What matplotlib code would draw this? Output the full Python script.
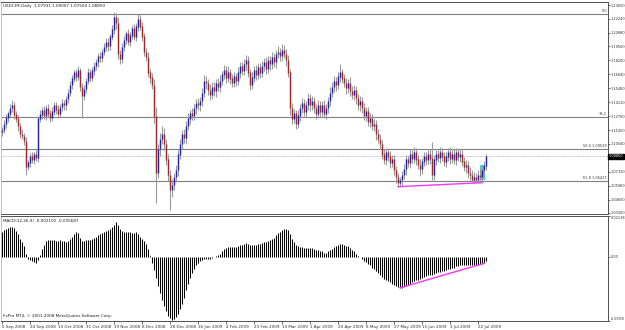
import numpy as np
import matplotlib.pyplot as plt
from matplotlib.patches import Rectangle
from matplotlib.transforms import blended_transform_factory

# USDCHF daily closes in pips (price * 10000), 5 Sep 2008 .. 28 Jul 2009
closes_pips = [
    11140, 11200, 11260, 11300, 11350, 11380, 11290, 11250, 11180, 11100,
    11080, 11030, 10780, 10820, 10880, 10850, 10900, 10870, 11250, 11290,
    11330, 11280, 11350, 11300, 11260, 11320, 11380, 11340, 11300, 11360,
    11400, 11380, 11440, 11500, 11580, 11640, 11700, 11660, 11720, 11560,
    11470, 11540, 11620, 11700, 11650, 11720, 11760, 11800, 11860, 11840,
    11900, 11950, 12000, 11960, 12050, 12120, 12240, 12180, 11880, 11830,
    11950, 12020, 12080, 12000, 12060, 12130, 12050, 12150, 12220, 12150,
    12050, 11900, 11850, 11700, 11650, 11580, 11270, 10720, 10950, 11050,
    11100, 11000, 10850, 10700, 10550, 10600, 10680, 10750, 10900, 11000,
    11100, 11060, 11180, 11250, 11300, 11280, 11350, 11400, 11380, 11420,
    11500, 11620, 11600, 11530, 11480, 11560, 11520, 11600, 11560, 11620,
    11680, 11720, 11650, 11700, 11640, 11600, 11660, 11620, 11700, 11760,
    11720, 11780, 11820, 11700, 11580, 11650, 11720, 11680, 11750, 11700,
    11760, 11800, 11740, 11820, 11780, 11850, 11800, 11880, 11900, 11860,
    11920, 11880, 11820, 11700, 11350, 11250, 11300, 11200, 11280, 11350,
    11400, 11320, 11380, 11450, 11380, 11420, 11350, 11300, 11380, 11320,
    11380, 11300, 11350, 11420, 11500, 11560, 11620, 11580, 11660, 11700,
    11640, 11600, 11550, 11600, 11520, 11480, 11530, 11450, 11380, 11420,
    11350, 11280, 11320, 11220, 11250, 11180, 11200, 11100, 11050, 11000,
    10900, 10850, 10920, 10880, 10820, 10850, 10750, 10680, 10620, 10650,
    10700, 10760, 10850, 10820, 10900, 10860, 10920, 10850, 10800, 10760,
    10830, 10880, 10850, 10900, 10860, 10700, 10850, 10900, 10870, 10920,
    10880, 10830, 10880, 10920, 10860, 10900, 10850, 10920, 10880, 10900,
    10830, 10780, 10800, 10720, 10700, 10650, 10680, 10650, 10700, 10680,
    10750, 10793, 10885,
]
first_open = 11120

upper_wick = [
    30, 40, 35, 25, 40, 50, 30, 35, 40, 30, 45, 35, 40, 30, 35, 45, 30, 40, 30, 50,
    35, 40, 30, 45, 35, 40, 30, 35, 45, 30, 40, 35, 30, 45, 40, 35, 30, 40, 45, 30,
    40, 35, 30, 45, 40, 35, 40, 30, 35, 45, 30, 40, 35, 40, 30, 45, 50, 40, 60, 45,
    35, 40, 30, 45, 40, 35, 45, 30, 50, 40, 45, 35, 40, 50, 40, 45, 60, 90, 50, 60,
    80, 60, 50, 55, 45, 60, 40, 50, 45, 55, 40, 50, 45, 60, 40, 50, 45, 40, 55, 45,
    50, 60, 45, 40, 55, 45, 50, 40, 45, 55, 40, 50, 45, 60, 40, 50, 45, 40, 55, 45,
    40, 50, 50, 45, 40, 55, 45, 50, 40, 45, 55, 40, 50, 45, 40, 50, 45, 40, 55, 45,
    60, 45, 50, 55, 40, 50, 45, 40, 55, 45, 50, 40, 45, 55, 40, 50, 45, 40, 55, 45,
    40, 50, 45, 40, 55, 45, 50, 40, 45, 80, 40, 50, 45, 40, 55, 45, 50, 40, 45, 55,
    40, 50, 45, 40, 55, 45, 50, 40, 45, 55, 40, 50, 45, 40, 55, 45, 50, 40, 45, 35,
    40, 50, 45, 40, 55, 45, 50, 40, 45, 55, 40, 50, 45, 40, 55, 160, 50, 40, 45, 55,
    40, 50, 45, 40, 55, 45, 50, 40, 45, 55, 40, 50, 45, 40, 55, 45, 50, 40, 45, 55, 40, 45, 16,
]
lower_wick = [
    35, 30, 40, 45, 30, 35, 40, 30, 45, 35, 30, 40, 80, 35, 40, 30, 45, 35, 40, 30,
    40, 35, 45, 30, 40, 35, 30, 45, 40, 35, 30, 40, 45, 35, 30, 40, 35, 45, 30, 40,
    210, 35, 40, 30, 45, 35, 40, 30, 45, 35, 40, 30, 35, 45, 40, 30, 40, 50, 45, 50,
    40, 35, 45, 30, 40, 35, 30, 45, 40, 35, 45, 40, 35, 45, 50, 40, 60, 290, 50, 60,
    50, 60, 55, 60, 190, 60, 50, 45, 55, 40, 50, 45, 60, 40, 50, 45, 40, 55, 45, 50,
    45, 40, 55, 45, 50, 40, 45, 55, 40, 50, 45, 40, 55, 45, 50, 40, 45, 55, 40, 50,
    45, 40, 55, 45, 50, 40, 45, 55, 40, 50, 45, 40, 55, 45, 50, 40, 45, 55, 40, 50,
    45, 40, 55, 45, 60, 50, 45, 55, 40, 50, 45, 40, 55, 45, 50, 40, 45, 55, 40, 50,
    45, 40, 55, 45, 50, 40, 45, 55, 40, 50, 45, 40, 55, 45, 50, 40, 45, 55, 40, 50,
    45, 40, 55, 45, 50, 40, 45, 55, 40, 50, 45, 40, 55, 45, 50, 40, 45, 55, 40, 40,
    45, 40, 55, 45, 50, 40, 45, 55, 40, 70, 45, 40, 55, 45, 50, 50, 45, 55, 40, 50,
    45, 40, 55, 45, 50, 40, 45, 55, 40, 50, 45, 40, 55, 45, 50, 25, 25, 25, 20, 50, 45, 40, 43,
]

# MACD(12,26,9) main line, in units of 0.0001
macd_main = [
    129, 140, 146, 151, 157, 157, 151, 134, 118, 95,
    78, 56, 17, -11, -17, -22, -28, -34, -17, 11,
    39, 62, 84, 90, 90, 90, 90, 84, 84, 90,
    84, 84, 78, 84, 95, 106, 118, 129, 123, 101,
    84, 84, 90, 90, 90, 95, 101, 106, 112, 118,
    123, 129, 134, 140, 146, 157, 168, 185, 168, 146,
    134, 129, 129, 129, 129, 123, 123, 129, 118, 106,
    95, 84, 67, 39, 6, -34, -67, -112, -151, -190,
    -224, -258, -286, -310, -322, -330, -326, -315, -297, -274,
    -246, -213, -174, -140, -112, -84, -62, -45, -34, -22,
    -17, -11, -11, -11, -11, -6, 0, 6, 11, 17,
    28, 39, 45, 50, 50, 50, 50, 50, 56, 62,
    62, 67, 73, 67, 62, 62, 62, 62, 67, 67,
    73, 78, 78, 84, 90, 95, 101, 112, 123, 129,
    140, 146, 146, 140, 118, 95, 78, 62, 56, 50,
    50, 45, 45, 45, 45, 45, 39, 34, 34, 28,
    28, 22, 22, 28, 34, 39, 50, 56, 62, 67,
    67, 62, 56, 56, 45, 34, 28, 17, 6, 0,
    -11, -22, -28, -39, -45, -56, -62, -73, -84, -95,
    -106, -118, -123, -129, -134, -140, -146, -151, -157, -162,
    -162, -157, -151, -146, -140, -134, -129, -123, -123, -118,
    -112, -106, -101, -95, -95, -95, -90, -84, -78, -78,
    -73, -73, -67, -62, -62, -56, -56, -50, -50, -45,
    -45, -45, -45, -45, -45, -45, -45, -45, -45, -39,
    -39, -34, -21,
]

date_labels = ['5 Sep 2008', '24 Sep 2008', '13 Oct 2008', '31 Oct 2008',
               '19 Nov 2008', '8 Dec 2008', '28 Dec 2008', '16 Jan 2009',
               '4 Feb 2009', '23 Feb 2009', '13 Mar 2009', '1 Apr 2009',
               '20 Apr 2009', '8 May 2009', '27 May 2009', '15 Jun 2009',
               '3 Jul 2009', '22 Jul 2009']
date_bars = [0, 14, 28, 42, 56, 70, 84, 98, 112, 126, 140, 154, 168, 182, 196, 210, 224, 238]

price_ticks = [1.23600, 1.22240, 1.20880, 1.19560, 1.18200, 1.16840, 1.15480, 1.14120,
               1.12760, 1.11400, 1.10040, 1.07320, 1.05960, 1.04600, 1.03300]
last_price = 1.08850

fib_high = 1.22705
fib_low = 0.96353
fib_levels = [0.0, 38.2, 50.0, 61.8]
fib_texts = ['0.0', '38.2', '50.0 1.09529', '61.8 1.06417']

price_trend = ([198, 240], [1.0587, 1.0626])
macd_trend = ([199, 241], [-0.0162, -0.0034])
box_bars = (238.75, 241.5)
box_prices = (1.0652, 1.0798)

W, H = 625, 330
fig = plt.figure(figsize=(W / 100, H / 100), dpi=100)
fig.patch.set_facecolor('white')
plt.rcParams['font.family'] = 'DejaVu Sans'
fs = 3.0      # general small text
fs_r = 2.5    # right-hand price scale

def px_axes(x0, y0, x1, y1):
    return fig.add_axes([x0 / W, 1 - y1 / H, (x1 - x0) / W, (y1 - y0) / H])

ax = px_axes(1, 2, 608, 214)
axm = px_axes(1, 216, 608, 321)

closes = np.array(closes_pips) / 10000.0
opens = np.concatenate([[first_open / 10000.0], closes[:-1]])
tops = np.maximum(opens, closes)
bots = np.minimum(opens, closes)
highs = tops + np.array(upper_wick) / 10000.0
lows = bots - np.array(lower_wick) / 10000.0
idx = np.arange(len(closes))
up = closes >= opens

for a in (ax, axm):
    a.set_xlim(-0.5, 303.0)
    for s in a.spines.values():
        s.set_color('#505050')
        s.set_linewidth(0.7)
    a.spines['left'].set_color('#c0c0c0')

ax.set_ylim(1.03202, 1.23893)

# fibonacci levels
for lvl, txt in zip(fib_levels, fib_texts):
    p = fib_high - (fib_high - fib_low) * lvl / 100.0
    ax.axhline(p, color='#808080', lw=0.8, zorder=1)
    ax.text(302.5, p + 0.0009, txt, ha='right', va='bottom', fontsize=fs_r, color='#303030')

ax.axhline(last_price, color='#a8a8a8', lw=0.6, ls=(0, (1, 1)), zorder=1)

ax.add_patch(Rectangle((box_bars[0], box_prices[0]), box_bars[1] - box_bars[0],
                       box_prices[1] - box_prices[0], facecolor='#30d8d8',
                       edgecolor='none', zorder=2))

ax.vlines(idx, lows, highs, color='#9a9a9a', lw=0.8, zorder=3)
ax.vlines(idx[up], bots[up], tops[up] + 0.0003, color='#2323a0', lw=1.0, zorder=4)
ax.vlines(idx[~up], bots[~up], tops[~up] + 0.0003, color='#9c2a2a', lw=1.0, zorder=4)

ax.plot(price_trend[0], price_trend[1], color='#ff33ff', lw=1.0, zorder=5)

ax.set_xticks([])
ax.yaxis.tick_right()
ax.set_yticks(price_ticks)
ax.set_yticklabels(['%.5f' % v for v in price_ticks])
ax.tick_params(axis='y', labelsize=fs_r, length=1.5, width=0.5, pad=0.6, colors='#303030')

ax.text(1.0012, last_price, '%.5f' % last_price,
        transform=blended_transform_factory(ax.transAxes, ax.transData),
        ha='left', va='center', fontsize=fs_r, color='white',
        bbox=dict(boxstyle='square,pad=0.15', facecolor='black', edgecolor='black'))

# MACD panel
macd = np.array(macd_main) / 10000.0
axm.set_ylim(-0.03358, 0.02138)
axm.vlines(idx, 0, macd, color='black', lw=0.75)
axm.plot(macd_trend[0], macd_trend[1], color='#ff33ff', lw=1.0)
axm.yaxis.tick_right()
axm.set_yticks([0.02138, 0.0, -0.03358])
axm.set_yticklabels(['0.02138', '0.00', '-0.03358'])
axm.tick_params(axis='y', labelsize=fs_r, length=1.5, width=0.5, pad=0.6, colors='#303030')
for lab, va in zip(axm.get_yticklabels(), ['top', 'center', 'bottom']):
    lab.set_va(va)
axm.get_yticklabels()[2].set_fontsize(2.2)

axm.set_xticks(date_bars)
axm.set_xticklabels(date_labels, ha='left')
axm.tick_params(axis='x', labelsize=fs, length=2, width=0.5, pad=1, colors='#303030')

fig.text(3 / W, 1 - 6 / H, 'USDCHF,Daily  1.07931 1.09007 1.07504 1.08850',
         fontsize=fs, va='center', ha='left', color='#202020')
fig.text(3 / W, 1 - 221 / H, 'MACD(12,26,9) -0.002102 -0.005687',
         fontsize=fs, va='center', ha='left', color='#202020')
fig.text(3 / W, 1 - 316 / H, 'FxPro MT4, \u00a9 2001-2008 MetaQuotes Software Corp.',
         fontsize=fs, va='center', ha='left', color='#202020')

fig.savefig('out.png', dpi=100)
